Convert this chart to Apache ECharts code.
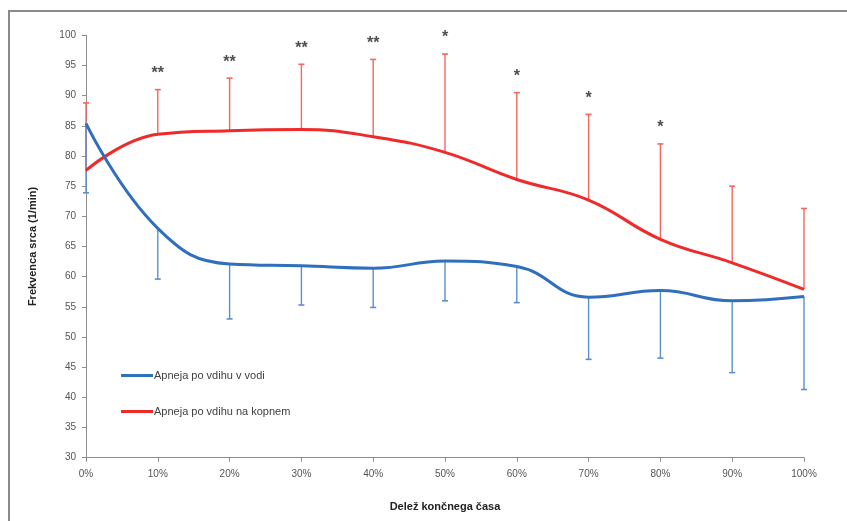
<!DOCTYPE html>
<html><head><meta charset="utf-8">
<script src="https://cdn.jsdelivr.net/npm/echarts@6/dist/echarts.min.js"></script>
<style>html,body{margin:0;padding:0;background:#fff}#c{width:847px;height:521px}</style>
</head><body><div id="c"></div>
<script>
const categories = ['0%','10%','20%','30%','40%','50%','60%','70%','80%','90%','100%'];
const waterMean = [85.4, 68.0, 62.1, 61.8, 61.4, 62.6, 61.7, 56.6, 57.7, 56.0, 56.7];
const waterLow  = [73.9, 59.6, 53.0, 55.3, 54.9, 56.0, 55.7, 46.3, 46.5, 44.1, 41.3];
const landMean  = [77.6, 83.6, 84.2, 84.4, 83.2, 80.6, 76.1, 72.7, 66.2, 62.3, 57.9];
const landHigh  = [88.8, 91.0, 92.9, 95.2, 96.0, 96.9, 90.5, 86.9, 82.0, 75.0, 71.3];
const stars     = ['', '**', '**', '**', '**', '*', '*', '*', '*', '', ''];
const yTicks = [30, 100, 5];

const BLUE = '#2f6fbd', RED = '#ee2a2a';
const FONT = 'Liberation Sans';

function errSeries(name, means, ends, color, z) {
  return {
    type: 'custom', name: name, z: z, silent: true,
    data: means.map((m, i) => [i, m, ends[i]]),
    renderItem: function (params, api) {
      const p0 = api.coord([api.value(0), api.value(1)]);
      const p1 = api.coord([api.value(0), api.value(2)]);
      const cw = 3;
      return { type: 'group', children: [
        { type: 'line', shape: { x1: p0[0], y1: p0[1], x2: p1[0], y2: p1[1] }, style: { stroke: color, lineWidth: 1.4 } },
        { type: 'line', shape: { x1: p1[0] - cw, y1: p1[1], x2: p1[0] + cw, y2: p1[1] }, style: { stroke: color, lineWidth: 1.6 } }
      ]};
    }
  };
}

const chart = echarts.init(document.getElementById('c'), null, { renderer: 'canvas' });
chart.setOption({
  animation: false,
  backgroundColor: '#fff',
  graphic: [
    { type: 'polyline', shape: { points: [[9, 521], [9, 11], [847, 11]] }, style: { stroke: '#8a8a8a', lineWidth: 2, fill: null } }
  ],
  grid: { left: 86, right: 43, top: 35.3, bottom: 63.3 },
  legend: {
    orient: 'vertical', left: 116, top: 365, itemGap: 25, itemWidth: 32, itemHeight: 3,
    data: [
      { name: 'Apneja po vdihu v vodi', icon: 'rect' },
      { name: 'Apneja po vdihu na kopnem', icon: 'rect' }
    ],
    textStyle: { fontFamily: FONT, fontSize: 11, color: '#404040', padding: [0, 0, 0, -4] }
  },
  xAxis: {
    type: 'category', data: categories, boundaryGap: false,
    name: 'Delež končnega časa', nameLocation: 'middle', nameGap: 44,
    nameTextStyle: { fontFamily: FONT, fontSize: 11, fontWeight: 'bold', color: '#222' },
    axisLine: { lineStyle: { color: '#8c8c8c', width: 1 } },
    axisTick: { alignWithLabel: true, length: 4, lineStyle: { color: '#8c8c8c' } },
    axisLabel: { fontFamily: FONT, fontSize: 10, color: '#555', margin: 12 },
    splitLine: { show: false }
  },
  yAxis: {
    type: 'value', min: yTicks[0], max: yTicks[1], interval: yTicks[2],
    name: 'Frekvenca srca (1/min)', nameLocation: 'middle', nameGap: 48,
    nameTextStyle: { fontFamily: FONT, fontSize: 11, fontWeight: 'bold', color: '#222' },
    axisLine: { show: true, lineStyle: { color: '#8c8c8c', width: 1 } },
    axisTick: { show: true, length: 4, lineStyle: { color: '#8c8c8c' } },
    axisLabel: { fontFamily: FONT, fontSize: 10, color: '#555', margin: 10 },
    splitLine: { show: false }
  },
  series: [
    errSeries('errLand', landMean, landHigh, '#f3675d', 2),
    errSeries('errWater', waterMean, waterLow, '#5b8fd0', 2),
    { name: 'Apneja po vdihu v vodi', type: 'line', data: waterMean, smooth: 0.45, symbol: 'none', z: 4,
      lineStyle: { color: BLUE, width: 3 }, itemStyle: { color: BLUE } },
    { name: 'Apneja po vdihu na kopnem', type: 'line', data: landMean, smooth: 0.45, symbol: 'none', z: 3,
      lineStyle: { color: RED, width: 3 }, itemStyle: { color: RED } },
    { name: 'stars', type: 'scatter', symbolSize: 0, silent: true, z: 5,
      data: landHigh.map((v, i) => ({ value: [i, v], label: { formatter: stars[i] } })),
      label: { show: true, position: 'top', distance: 8, fontFamily: FONT, fontSize: 16, fontWeight: 'bold', color: '#222' } }
  ]
});
</script></body></html>
